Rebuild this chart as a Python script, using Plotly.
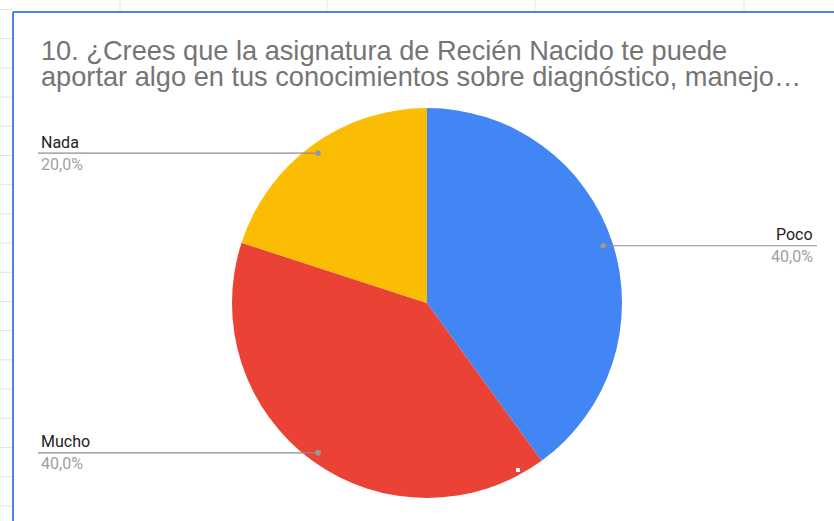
import math
import plotly.graph_objects as go

# ---- data ----
labels = ["Poco", "Mucho", "Nada"]
values = [2, 2, 1]
pct_labels = ["40,0%", "40,0%", "20,0%"]
colors = ["#4285f4", "#ea4335", "#fbbc04"]
title_lines = [
    "10. ¿Crees que la asignatura de Recién Nacido te puede",
    "aportar algo en tus conocimientos sobre diagnóstico, manejo…",
]

W, H = 834, 521


def px(x):
    return x / W


def py(y):
    return 1 - y / H


# pie geometry (pixels)
CX, CY, R = 427, 303, 195

fig = go.Figure()
fig.add_trace(go.Pie(
    labels=labels,
    values=values,
    marker=dict(colors=colors, line=dict(width=0)),
    sort=False,
    direction="clockwise",
    rotation=0,
    textinfo="none",
    hoverinfo="label+percent",
    showlegend=False,
    domain=dict(x=[px(CX - R), px(CX + R)], y=[py(CY + R), py(CY - R)]),
))

shapes = []
annotations = []

# spreadsheet background grid (outside chart frame)
grid_color = "#e2e2e2"
y = 9.5
while y < H:
    shapes.append(dict(type="line", xref="paper", yref="paper",
                       x0=0, x1=px(12), y0=py(y), y1=py(y),
                       line=dict(color=grid_color, width=1)))
    y += 29.2
for gx in [120, 327, 535, 744]:
    shapes.append(dict(type="line", xref="paper", yref="paper",
                       x0=px(gx), x1=px(gx), y0=py(0), y1=py(11),
                       line=dict(color=grid_color, width=1)))

# chart frame (blue selection border)
shapes.append(dict(type="line", xref="paper", yref="paper",
                   x0=px(13), x1=px(13), y0=py(12), y1=0,
                   line=dict(color="#4a86e8", width=2)))
shapes.append(dict(type="line", xref="paper", yref="paper",
                   x0=px(13), x1=1, y0=py(12), y1=py(12),
                   line=dict(color="#4a86e8", width=2)))

# small white speck on the pie
shapes.append(dict(type="rect", xref="paper", yref="paper",
                   x0=px(516), x1=px(520), y0=py(472), y1=py(468),
                   fillcolor="white", line=dict(width=0)))

# title
title_font = dict(family="Liberation Sans, Arial", size=27.2, color="#757575")
annotations.append(dict(text=title_lines[0], xref="paper", yref="paper",
                        x=px(38.5), y=py(50.5), xanchor="left", yanchor="middle",
                        showarrow=False, font=title_font))
annotations.append(dict(text=title_lines[1], xref="paper", yref="paper",
                        x=px(38.5), y=py(76.5), xanchor="left", yanchor="middle",
                        showarrow=False, font=title_font))

# leader lines + labels computed from slice midpoints
total = sum(values)
cum = 0
r_dot = 0.95 * R
for lab, val, pl in zip(labels, values, pct_labels):
    mid = (cum + val / 2) / total * 2 * math.pi
    cum += val
    dx = CX + r_dot * math.sin(mid)
    dy = CY - r_dot * math.cos(mid)
    right = math.sin(mid) > 0
    x_end = 817 if right else 38
    shapes.append(dict(type="line", xref="paper", yref="paper",
                       x0=px(dx), x1=px(x_end), y0=py(dy), y1=py(dy),
                       line=dict(color="#8c8c8c", width=1.2)))
    shapes.append(dict(type="circle", xref="paper", yref="paper",
                       x0=px(dx - 2.8), x1=px(dx + 2.8), y0=py(dy + 2.8), y1=py(dy - 2.8),
                       fillcolor="#9a9a9a", line=dict(width=0)))
    anchor = "right" if right else "left"
    tx = x_end - 2 if right else x_end + 1
    annotations.append(dict(text=lab, xref="paper", yref="paper",
                            x=px(tx), y=py(dy - 11), xanchor=anchor, yanchor="middle",
                            showarrow=False,
                            font=dict(family="Roboto, Arial", size=16, color="#222222")))
    annotations.append(dict(text=pl, xref="paper", yref="paper",
                            x=px(tx), y=py(dy + 11), xanchor=anchor, yanchor="middle",
                            showarrow=False,
                            font=dict(family="Roboto, Arial", size=16, color="#a0a0a0")))

fig.update_layout(
    width=W, height=H,
    margin=dict(l=0, r=0, t=0, b=0),
    paper_bgcolor="white",
    plot_bgcolor="white",
    shapes=shapes,
    annotations=annotations,
)

fig.write_html("out.html", config={"displayModeBar": False},
               post_script="document.body.style.margin='0';")
